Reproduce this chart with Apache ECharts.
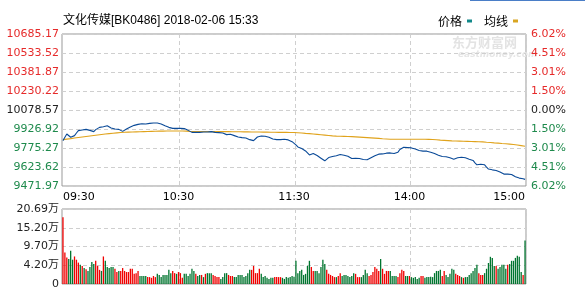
<!DOCTYPE html>
<html>
<head>
<meta charset="utf-8">
<script src="https://cdn.jsdelivr.net/npm/echarts@6.0.0/dist/echarts.min.js"></script>
<style>
html,body{margin:0;padding:0;background:#fff;}
#chart{width:585px;height:298px;}
</style>
</head>
<body>
<div id="chart"></div>
<script>
// ---------- data ----------
const titleText = '文化传媒[BK0486] 2018-02-06 15:33';
const seriesNames = ['价格', '均线'];

const priceMin = 9471.97;
const priceMax = 10685.17;
const priceStep = 151.65;
const leftLabels = ['9471.97','9623.62','9775.27','9926.92','10078.57','10230.22','10381.87','10533.52','10685.17'];
const rightLabels = ['6.02%','4.51%','3.01%','1.50%','0.00%','1.50%','3.01%','4.51%','6.02%'];

const volMax = 20.69;
const volLabels = ['0','4.20万','9.70万','15.20万','20.69万'];

const xLabelTimes = ['09:30','10:30','11:30','14:00','15:00'];
const xGridTimes = ['10:31','13:01','14:01'];

// minute categories 09:30-11:30, 13:01-15:00
const times = [];
function pad(n){return (n<10?'0':'')+n;}
for (let m = 9*60+30; m <= 11*60+30; m++) times.push(pad(Math.floor(m/60))+':'+pad(m%60));
for (let m = 13*60+1; m <= 15*60; m++) times.push(pad(Math.floor(m/60))+':'+pad(m%60));

const price = [
9834,9861,9887,9877,9861,9861,9874,9895,9914,9919,
9919,9922,9924,9924,9916,9908,9906,9922,9935,9940,
9940,9945,9956,9953,9945,9935,9927,9927,9927,9924,
9919,9908,9916,9927,9935,9943,9948,9956,9961,9964,
9967,9969,9969,9967,9969,9972,9975,9975,9975,9975,
9972,9967,9961,9953,9945,9940,9935,9932,9932,9932,
9932,9932,9932,9930,9924,9916,9903,9900,9900,9900,
9900,9900,9900,9903,9906,9903,9900,9906,9903,9900,
9898,9898,9900,9895,9887,9882,9882,9885,9879,9874,
9869,9863,9861,9858,9858,9855,9853,9842,9832,9834,
9847,9863,9871,9871,9871,9869,9866,9861,9853,9847,
9845,9842,9840,9842,9845,9845,9845,9840,9832,9826,
9818,9800,9784,9776,9771,9766,9752,9736,9720,9723,
9731,9731,9715,9702,9694,9686,9673,9686,9699,9705,
9707,9710,9713,9718,9723,9720,9718,9715,9710,9699,
9691,9691,9694,9694,9691,9686,9683,9678,9681,9689,
9697,9705,9713,9720,9726,9726,9728,9731,9734,9739,
9736,9734,9731,9734,9742,9763,9776,9781,9779,9779,
9776,9776,9773,9768,9763,9755,9752,9750,9750,9750,
9747,9742,9736,9731,9726,9718,9707,9707,9707,9705,
9702,9697,9691,9686,9691,9697,9702,9702,9699,9697,
9694,9686,9678,9676,9657,9641,9641,9646,9654,9641,
9623,9607,9601,9601,9599,9596,9593,9583,9570,9567,
9567,9567,9567,9564,9556,9546,9538,9535,9533,9530,
9525
];

const avgPrice = [
9842,9844,9846,9848,9850,9852,9855,9857,9859,9861,
9863,9865,9867,9869,9871,9873,9875,9877,9879,9881,
9883,9885,9887,9889,9890,9892,9893,9895,9896,9898,
9899,9900,9901,9902,9902,9903,9903,9904,9904,9905,
9905,9906,9906,9907,9907,9908,9908,9909,9909,9909,
9910,9910,9910,9911,9911,9911,9911,9911,9911,9911,
9911,9911,9911,9910,9910,9909,9908,9908,9907,9907,
9907,9907,9906,9906,9906,9906,9906,9906,9906,9906,
9906,9906,9906,9906,9906,9906,9906,9905,9905,9905,
9905,9905,9905,9904,9904,9904,9904,9904,9903,9903,
9903,9903,9903,9902,9902,9902,9902,9901,9901,9901,
9901,9900,9900,9900,9900,9900,9900,9900,9899,9899,
9899,9898,9897,9896,9895,9893,9892,9891,9890,9889,
9887,9886,9884,9883,9881,9879,9878,9877,9875,9874,
9872,9871,9870,9870,9869,9869,9868,9868,9867,9867,
9866,9865,9864,9863,9862,9861,9860,9859,9858,9857,
9856,9855,9854,9853,9852,9850,9849,9848,9847,9846,
9845,9845,9845,9845,9845,9845,9845,9845,9845,9845,
9845,9845,9845,9845,9845,9845,9845,9845,9845,9845,
9844,9844,9843,9842,9841,9840,9838,9837,9836,9835,
9834,9833,9832,9831,9831,9830,9830,9829,9829,9828,
9828,9827,9827,9826,9826,9825,9825,9824,9824,9822,
9821,9820,9819,9818,9816,9815,9814,9813,9811,9810,
9809,9808,9806,9804,9803,9801,9799,9797,9794,9792,
9789
];

// volume in 万
const volume = [
18.4,8.7,7.3,6.9,9.2,6.7,7.6,6.7,5.9,5.3,
5.0,4.4,4.1,3.6,4.7,6.1,5.5,6.4,5.0,3.9,
3.6,7.6,6.4,4.7,4.4,4.7,4.7,4.2,3.3,3.6,
3.6,4.4,3.6,3.3,3.3,4.2,4.2,2.8,3.0,3.6,
2.2,2.2,2.2,2.2,1.9,1.9,1.7,2.2,1.9,2.8,
2.5,1.9,2.5,2.5,2.5,3.9,3.0,3.6,3.0,2.8,
3.3,
3.0,1.7,2.8,2.8,2.2,2.8,4.2,3.6,2.8,2.2,
2.5,2.5,1.9,2.8,3.0,3.0,3.0,2.5,2.2,1.9,
1.9,1.4,1.9,3.0,3.0,2.5,2.2,2.2,1.9,1.9,
2.5,2.5,2.5,1.9,2.2,3.0,3.9,3.9,5.0,3.0,
3.0,4.2,2.8,1.9,2.2,1.7,1.4,1.7,1.7,1.9,
1.9,1.9,1.9,1.7,1.4,1.9,1.7,1.9,2.2,2.0,
6.4,3.0,3.6,3.9,2.5,2.8,5.0,6.4,4.7,3.6,
3.6,3.6,3.0,4.7,6.7,5.5,3.9,2.8,2.5,2.2,
1.9,1.9,2.2,3.0,2.2,2.5,2.5,2.2,1.9,2.2,
3.0,2.8,1.9,1.9,1.9,2.5,3.9,3.0,2.2,2.5,
3.3,4.7,4.2,3.6,6.9,4.2,2.8,3.6,3.6,3.6,
2.2,2.2,2.2,1.9,3.0,3.9,3.6,2.2,2.2,2.2,
1.9,
1.7,1.9,1.4,1.7,2.2,2.2,1.7,1.9,1.9,2.0,
1.9,3.0,3.6,3.6,3.9,2.2,3.6,2.5,1.9,2.8,
4.2,3.9,2.8,2.5,2.2,1.9,1.7,1.9,1.9,2.5,
3.0,3.6,4.4,5.3,3.0,2.5,2.5,3.0,4.2,5.8,
7.5,7.2,5.0,5.0,4.2,4.7,5.3,5.3,4.2,5.3,
5.5,6.4,6.4,7.2,7.8,7.5,3.3,2.5,12.0
];

// 1 = up (red), 0 = down (green)
const volUp = [
1,1,1,0,0,0,1,1,1,0,
1,0,1,0,0,0,0,1,1,1,
0,1,0,0,0,0,0,1,1,0,
1,1,1,1,1,1,1,1,1,1,
0,0,0,0,1,1,1,1,1,0,
0,0,0,0,0,0,0,1,1,0,
1,
1,1,0,0,0,0,0,0,1,0,
0,1,0,1,0,0,0,1,1,1,
1,0,0,0,0,1,1,1,0,0,
0,0,0,0,0,0,0,1,1,1,
1,1,0,0,0,0,0,0,0,1,
1,1,1,0,0,0,0,0,0,0,
0,0,0,0,0,0,0,0,1,1,
0,0,0,0,0,0,1,1,1,1,
1,0,1,1,0,0,0,0,0,0,
0,1,1,1,0,0,0,0,1,1,
1,1,1,1,0,1,1,1,1,0,
0,0,0,1,1,1,1,0,0,1,
0,
0,0,0,0,1,1,0,0,0,0,
0,0,0,0,0,1,1,0,0,0,
0,0,1,1,1,0,1,0,0,0,
0,0,0,0,1,1,1,0,0,0,
0,0,0,1,0,0,0,0,0,1,
0,0,0,0,0,0,0,1,0
];

// ---------- style ----------
const RED = '#e62a2a', GREEN = '#1e8a4c', BLACK = '#222';
const BAR_RED = '#f00000', BAR_GREEN = '#00752f';
const FONT = '"DejaVu Sans", "Noto Sans CJK SC", sans-serif';
const gridLine = {show:true, lineStyle:{color:'#cfcfcf', type:[4,3], width:1}};

const showLabelIdx = new Set(xLabelTimes.map(t => times.indexOf(t)));
const gridIdx = new Set(xGridTimes.map(t => times.indexOf(t)));

function priceIdx(v){ return Math.round((Number(v) - priceMin) / priceStep); }
function priceColor(v){ const i = priceIdx(v); return i > 4 ? RED : (i < 4 ? GREEN : BLACK); }

const chart = echarts.init(document.getElementById('chart'), null, {renderer:'canvas'});
chart.setOption({
  animation:false,
  backgroundColor:'#fff',
  title:{
    text:titleText, left:63, top:15, padding:0,
    textStyle:{fontSize:12, fontWeight:'normal', color:'#000', fontFamily:'"Liberation Sans", "Noto Sans CJK SC", sans-serif'}
  },
  legend:{
    left:438, top:15, padding:0, align:'right', itemWidth:5, itemHeight:3, itemGap:12,
    textStyle:{fontSize:12, color:'#000', fontFamily:'"Noto Sans CJK SC", sans-serif'},
    data:[
      {name:seriesNames[0], icon:'rect', itemStyle:{color:'#12898a'}},
      {name:seriesNames[1], icon:'rect', itemStyle:{color:'#d9a521'}}
    ],
    selectedMode:false
  },
  graphic:[
    {type:'rect', left:470, top:0, shape:{width:115, height:1}, style:{fill:'#4a7ec7'}},
    {type:'text', left:452, top:36, style:{text:'东方财富网', fill:'#e3e3e3', font:'bold 13px "Noto Sans CJK SC"'}},
    {type:'text', left:458, top:50, style:{text:'eastmoney.com', fill:'#e6e6e6', font:'italic bold 9px "DejaVu Sans"'}}
  ],
  grid:[
    {left:62, right:59, top:34, height:152, show:true, borderColor:'#999', borderWidth:1},
    {left:62, right:59, top:209, height:75, show:true, borderColor:'#999', borderWidth:1}
  ],
  xAxis:[
    {
      type:'category', gridIndex:0, data:times, boundaryGap:true,
      axisLine:{show:false}, axisTick:{show:false},
      axisLabel:{
        interval:(i)=>showLabelIdx.has(i), margin:6, fontSize:11, color:'#000', fontFamily:FONT,
        alignMinLabel:'left', alignMaxLabel:'right'
      },
      splitLine:Object.assign({interval:(i)=>gridIdx.has(i)}, gridLine)
    },
    {
      type:'category', gridIndex:1, data:times, boundaryGap:true,
      axisLine:{show:false}, axisTick:{show:false}, axisLabel:{show:false},
      splitLine:Object.assign({interval:(i)=>gridIdx.has(i)}, gridLine)
    }
  ],
  yAxis:[
    {
      type:'value', gridIndex:0, position:'left', min:priceMin, max:priceMax, interval:priceStep,
      axisLine:{show:false}, axisTick:{show:false}, splitLine:gridLine,
      axisLabel:{margin:3, fontSize:11, fontFamily:FONT,
        formatter:(v)=>leftLabels[priceIdx(v)], color:(v)=>priceColor(v)}
    },
    {
      type:'value', gridIndex:0, position:'right', min:priceMin, max:priceMax, interval:priceStep,
      axisLine:{show:false}, axisTick:{show:false}, splitLine:{show:false},
      axisLabel:{margin:5, fontSize:11, fontFamily:FONT,
        formatter:(v)=>rightLabels[priceIdx(v)], color:(v)=>priceColor(v)}
    },
    {
      type:'value', gridIndex:1, position:'left', min:0, max:volMax, interval:volMax/4,
      axisLine:{show:false}, axisTick:{show:false}, splitLine:gridLine,
      axisLabel:{margin:3, fontSize:11, fontFamily:FONT, color:'#222',
        formatter:(v)=>volLabels[Math.round(Number(v)/(volMax/4))]}
    }
  ],
  series:[
    {
      name:seriesNames[0], type:'line', xAxisIndex:0, yAxisIndex:0, data:price,
      showSymbol:false, symbol:'none', lineStyle:{color:'#0a4a98', width:1.1}, itemStyle:{color:'#12898a'},
      silent:true, z:3
    },
    {
      name:seriesNames[1], type:'line', xAxisIndex:0, yAxisIndex:0, data:avgPrice,
      showSymbol:false, symbol:'none', lineStyle:{color:'#e0a31c', width:1.1}, itemStyle:{color:'#d9a521'},
      silent:true, z:2
    },
    {
      name:'成交量', type:'bar', xAxisIndex:1, yAxisIndex:2, barWidth:1.3, silent:true,
      data:volume.map((v,i)=>({value:v, itemStyle:{color: volUp[i] ? BAR_RED : BAR_GREEN}}))
    }
  ]
});
</script>
</body>
</html>
